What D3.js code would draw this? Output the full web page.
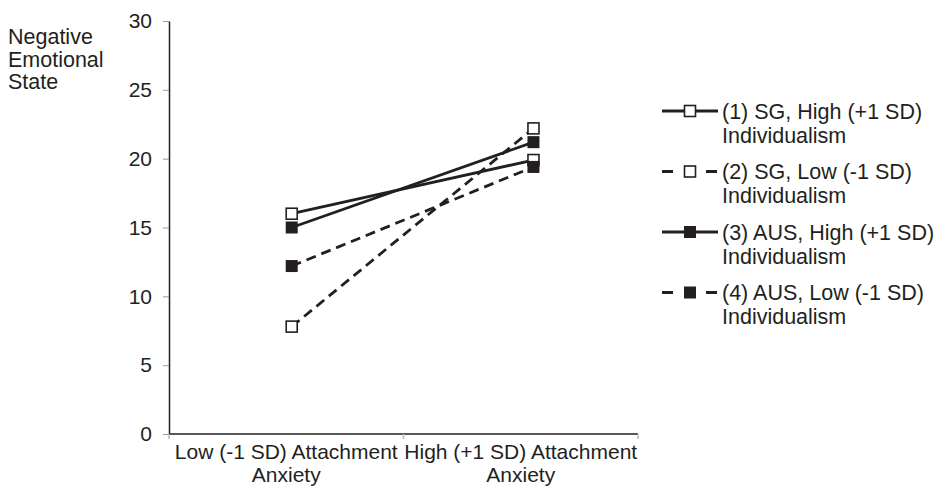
<!DOCTYPE html>
<html>
<head>
<meta charset="utf-8">
<script src="https://cdn.jsdelivr.net/npm/d3@7"></script>
<style>
  body { margin: 0; background: #fff; }
  text { font-family: "Liberation Sans", Arial, sans-serif; fill: #231f20; }
</style>
</head>
<body>
<div id="chart"></div>
<script>
// categories on the x axis (each label is two lines)
const categories = ["low", "high"];
const categoryLabels = [["Low (-1 SD) Attachment", "Anxiety"], ["High (+1 SD) Attachment", "Anxiety"]];
const yTicks = [0, 5, 10, 15, 20, 25, 30];

// series
const seriesNames = ["(1) SG, High (+1 SD)", "(2) SG, Low (-1 SD)", "(3) AUS, High (+1 SD)", "(4) AUS, Low (-1 SD)"];
const seriesSub = "Individualism";
const seriesDashed = [false, true, false, true];
const seriesFilled = [false, false, true, true];
const sgHigh = [16.0, 19.9];
const sgLow = [7.8, 22.2];
const ausHigh = [15.0, 21.2];
const ausLow = [12.2, 19.4];
const seriesValues = [sgHigh, sgLow, ausHigh, ausLow];

const margin = {top: 21, left: 169, bottom: 61};
const width = 469, height = 413;
const ink = "#231f20";

const svg = d3.select("#chart")
    .append("svg")
    .attr("width", 940)
    .attr("height", 495);

const g = svg.append("g")
    .attr("transform", `translate(${margin.left}, ${margin.top})`);

const y = d3.scaleLinear()
    .domain([0, 30])
    .range([height, 0]);

const xBand = d3.scaleBand()
    .domain(categories)
    .range([0, width]);

// markers sit a little right of the band centres in the original
const xPoint = d3.scalePoint()
    .domain(categories)
    .range([0, width])
    .padding(0.47)
    .align(0.54);

// Y axis
const yAxis = g.append("g")
    .call(d3.axisLeft(y).tickValues(yTicks).tickSize(6).tickPadding(11).tickSizeOuter(0));
yAxis.select(".domain").attr("stroke", ink).attr("stroke-width", 1.5);
yAxis.selectAll(".tick line").attr("stroke", "#999");
yAxis.selectAll(".tick text")
    .style("font-size", "21px")
    .attr("font-family", null)
    .attr("fill", ink);

// X axis line + boundary ticks
g.append("line")
    .attr("x1", 0).attr("x2", width)
    .attr("y1", height).attr("y2", height)
    .attr("stroke", ink).attr("stroke-width", 1.5);

const bounds = categories.map(c => xBand(c)).concat([width]);
g.selectAll(".xtick")
    .data(bounds)
    .enter().append("line")
    .attr("x1", d => d).attr("x2", d => d)
    .attr("y1", height).attr("y2", height + 5)
    .attr("stroke", "#bbb").attr("stroke-width", 1.5);

// X labels
categories.forEach(function (c, i) {
    const t = g.append("text")
        .attr("text-anchor", "middle")
        .attr("x", xBand(c) + xBand.bandwidth() / 2)
        .attr("y", height + 25)
        .style("font-size", "21px");
    categoryLabels[i].forEach(function (line, j) {
        t.append("tspan")
            .attr("x", xBand(c) + xBand.bandwidth() / 2)
            .attr("dy", j === 0 ? 0 : 23)
            .text(line);
    });
});

// Y axis title
const yTitle = svg.append("text")
    .attr("x", 8)
    .attr("y", 44)
    .style("font-size", "21.5px");
["Negative", "Emotional", "State"].forEach(function (line, j) {
    yTitle.append("tspan").attr("x", 8).attr("dy", j === 0 ? 0 : 22.5).text(line);
});

// lines
const line = d3.line()
    .x((d, i) => xPoint(categories[i]))
    .y(d => y(d));

seriesValues.forEach(function (vals, s) {
    g.append("path")
        .attr("d", line(vals))
        .attr("fill", "none")
        .attr("stroke", ink)
        .attr("stroke-width", 2.8)
        .attr("stroke-dasharray", seriesDashed[s] ? "10,6" : null);
});

// markers
seriesValues.forEach(function (vals, s) {
    const sz = seriesFilled[s] ? 12 : 11;
    g.selectAll(".m" + s)
        .data(vals)
        .enter().append("rect")
        .attr("x", (d, i) => xPoint(categories[i]) - sz / 2)
        .attr("y", d => y(d) - sz / 2)
        .attr("width", sz)
        .attr("height", sz)
        .attr("fill", seriesFilled[s] ? ink : "#fff")
        .attr("stroke", ink)
        .attr("stroke-width", seriesFilled[s] ? 0 : 1.6);
});

// legend
const legend = svg.append("g").attr("transform", "translate(662, 111)");
seriesNames.forEach(function (name, s) {
    const row = legend.append("g").attr("transform", `translate(0, ${s * 60.5})`);
    row.append("line")
        .attr("x1", 0).attr("x2", 56)
        .attr("y1", 0).attr("y2", 0)
        .attr("stroke", ink)
        .attr("stroke-width", 2.8)
        .attr("stroke-dasharray", seriesDashed[s] ? "11,33" : null);
    const sz = seriesFilled[s] ? 12 : 11;
    row.append("rect")
        .attr("x", 28 - sz / 2).attr("y", -sz / 2)
        .attr("width", sz).attr("height", sz)
        .attr("fill", seriesFilled[s] ? ink : "#fff")
        .attr("stroke", ink)
        .attr("stroke-width", seriesFilled[s] ? 0 : 1.6);
    const t = row.append("text")
        .attr("x", 60)
        .attr("y", 7.5)
        .style("font-size", "21.5px");
    t.append("tspan").attr("x", 60).attr("dy", 0).text(name);
    t.append("tspan").attr("x", 60).attr("dy", 24).text(seriesSub);
});
</script>
</body>
</html>
